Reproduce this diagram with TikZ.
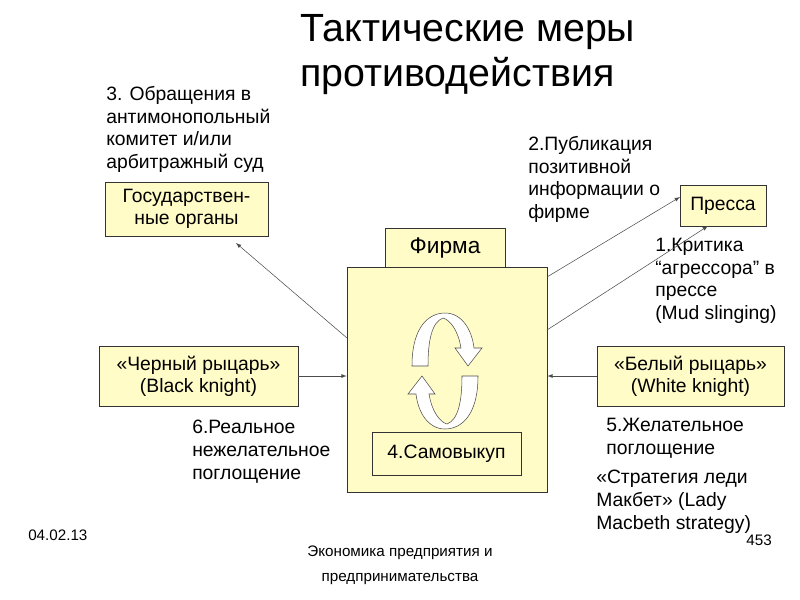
\documentclass[tikz,border=0pt]{standalone}
\usepackage{fontspec}
\setmainfont{Liberation Sans}
\begin{document}
\begin{tikzpicture}[x=0.75pt,y=-0.75pt,
  box/.style={draw=black!80,fill=yellow!22,inner sep=0pt,align=center,font=\fontsize{14.5}{16.5}\selectfont},
  lbl/.style={anchor=north west,align=left,inner sep=0pt,font=\fontsize{14.5}{17}\selectfont},
  foot/.style={inner sep=0pt,font=\fontsize{11.4}{19}\selectfont},
  arr/.style={draw=black!70,-latex,shorten >=0pt}]
\useasboundingbox (0,0) rectangle (800,600);
\node[anchor=north west,align=left,inner sep=0pt,font=\fontsize{29.5}{34}\selectfont] (title) at (300,14) {Тактические меры\\противодействия};
\node[box,minimum width=163*0.75pt,minimum height=54*0.75pt] (gov) at (186.5,209) {Государствен-\\ные органы};
\node[box,minimum width=86*0.75pt,minimum height=41*0.75pt] (press) at (723,205.5) {Пресса};
\node[box,minimum width=120*0.75pt,minimum height=39*0.75pt,font=\fontsize{17}{19}\selectfont] (firmlabel) at (445,247.5) {Фирма};
\node[box,minimum width=200*0.75pt,minimum height=225*0.75pt] (firm) at (447,379.5) {};
\node[box,minimum width=149*0.75pt,minimum height=43*0.75pt] (self) at (446.5,453.5) {4.Самовыкуп};
\node[box,minimum width=199*0.75pt,minimum height=60*0.75pt] (black) at (198.5,376) {«Черный рыцарь»\\(Black knight)};
\node[box,minimum width=187*0.75pt,minimum height=60*0.75pt] (white) at (690.5,376) {«Белый рыцарь»\\(White knight)};
\node[lbl] (l3) at (106,86) {3. Обращения в\\антимонопольный\\комитет и/или\\арбитражный суд};
\node[lbl] (l2) at (528,136) {2.Публикация\\позитивной\\информации о\\фирме};
\node[lbl] (l1) at (655,238) {1.Критика\\“агрессора” в\\прессе\\(Mud slinging)};
\node[lbl] (l6) at (192,420) {6.Реальное\\нежелательное\\поглощение};
\node[lbl] (l5) at (606,418) {5.Желательное\\поглощение};
\node[lbl] (lm) at (596,470) {«Стратегия леди\\Макбет» (Lady\\Macbeth strategy)};
\node[foot,anchor=west] (date) at (28,535) {04.02.13};
\node[foot,align=center] (subj) at (400,565) {Экономика предприятия и\\предпринимательства};
\node[foot,anchor=east] (page) at (772,540) {453};
\coordinate (fa) at (347,338);
\coordinate (fb) at (547,277);
\coordinate (fc) at (547,330);
\coordinate (pa) at (680,197);
\coordinate (pb) at (708,226);
\coordinate (ga) at (236,243);
\draw[arr] (fa) -- (ga);
\draw[arr] (fb) -- (pa);
\draw[arr] (fc) -- (pb);
\draw[arr] (black.east) -- (black.east -| firm.west);
\draw[arr] (white.west) -- (white.west -| firm.east);
\def\circarrow{(412,366) .. controls (412,325) and (430,313) .. (445,313) .. controls (462,313) and (472,330) .. (474,348)
 -- (482,348) -- (468,366) -- (455,348) -- (461,348)
 .. controls (458,330) and (450,320) .. (443,318) .. controls (432,322) and (428,340) .. (428,366) -- cycle}
\draw[draw=black!70,fill=white] \circarrow;
\draw[draw=black!70,fill=white,rotate around={180:(445,371)}] \circarrow;
\end{tikzpicture}
\end{document}
